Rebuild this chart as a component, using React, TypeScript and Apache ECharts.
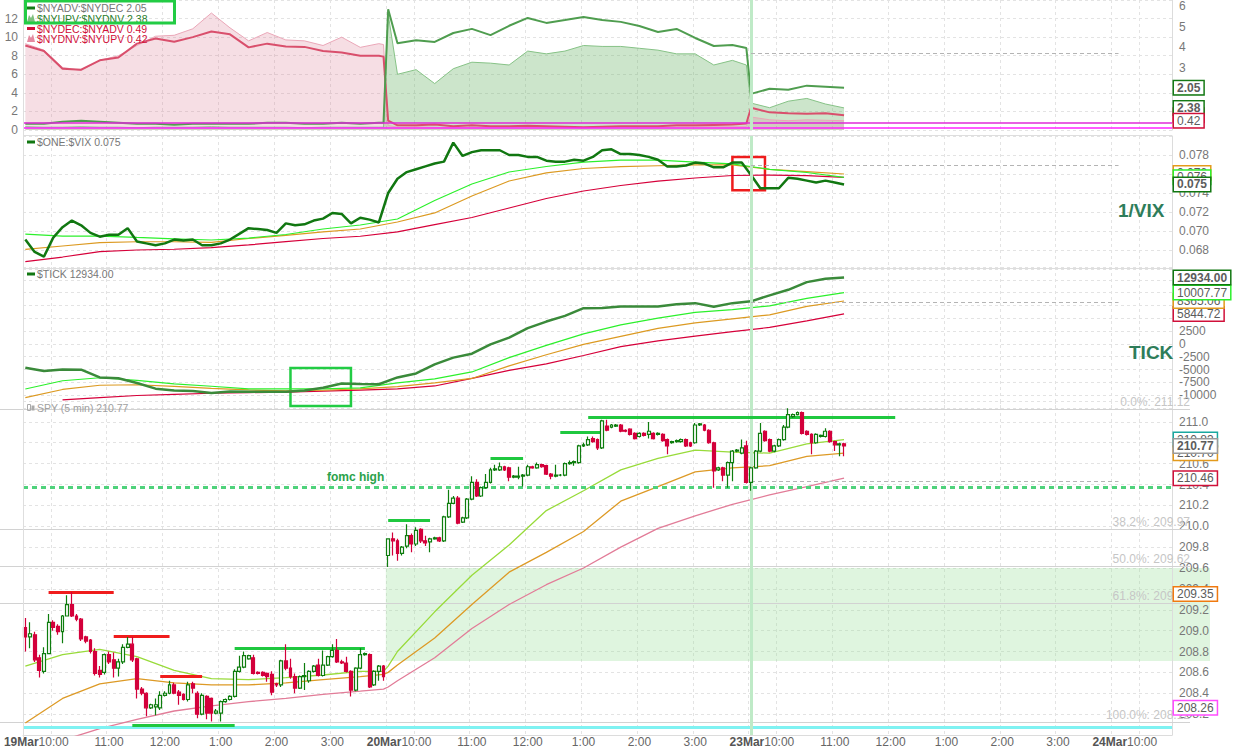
import React, { useEffect, useRef } from "react";
import * as echarts from "echarts";

// ---------- categories (5-minute slots, 78 per session) ----------
const DAYS = ["19Mar", "20Mar", "23Mar", "24Mar"];
const BARS_PER_DAY = 78;
const SLOT_COUNT = 247;
const OPEN_MIN = 570; // 9:30

// ---------- SPY 5-min candles: [open, close, low, high] ----------
const SPY_OHLC: number[][] = [
  // 19 Mar
  [209.03, 208.94, 208.8, 209.12], [208.94, 208.97, 208.83, 209.08], [208.96, 208.72, 208.7, 208.99], [208.74, 208.62, 208.55, 208.77],
  [208.61, 208.78, 208.59, 208.84], [208.78, 209.08, 208.78, 209.16], [209.08, 209.03, 209.0, 209.1], [209.04, 208.99, 208.96, 209.06],
  [208.99, 209.14, 208.88, 209.15], [209.14, 209.25, 209.14, 209.34], [209.25, 209.14, 209.13, 209.37], [209.14, 209.11, 209.09, 209.16],
  [209.11, 208.92, 208.9, 209.12], [208.94, 208.9, 208.88, 208.95], [208.91, 208.8, 208.78, 208.92], [208.8, 208.59, 208.57, 208.83],
  [208.62, 208.58, 208.55, 208.66], [208.6, 208.77, 208.58, 208.78], [208.77, 208.7, 208.68, 208.8], [208.72, 208.64, 208.55, 208.79],
  [208.64, 208.7, 208.56, 208.73], [208.7, 208.84, 208.68, 208.87], [208.84, 208.87, 208.83, 208.94], [208.87, 208.72, 208.7, 208.94],
  [208.73, 208.44, 208.35, 208.74], [208.44, 208.4, 208.38, 208.46], [208.4, 208.26, 208.18, 208.41], [208.26, 208.29, 208.25, 208.3],
  [208.27, 208.29, 208.19, 208.35], [208.26, 208.38, 208.24, 208.42], [208.38, 208.4, 208.37, 208.42], [208.4, 208.48, 208.39, 208.52],
  [208.48, 208.4, 208.39, 208.5], [208.41, 208.38, 208.29, 208.43], [208.39, 208.34, 208.33, 208.4], [208.34, 208.48, 208.32, 208.51],
  [208.49, 208.45, 208.4, 208.51], [208.4, 208.2, 208.16, 208.42], [208.2, 208.38, 208.19, 208.4], [208.37, 208.21, 208.15, 208.38],
  [208.35, 208.21, 208.13, 208.36], [208.21, 208.23, 208.2, 208.25], [208.21, 208.32, 208.13, 208.33], [208.32, 208.34, 208.31, 208.35],
  [208.34, 208.37, 208.33, 208.38], [208.37, 208.61, 208.36, 208.63], [208.61, 208.65, 208.6, 208.76], [208.65, 208.76, 208.64, 208.8],
  [208.73, 208.76, 208.72, 208.77], [208.74, 208.59, 208.58, 208.77], [208.6, 208.59, 208.58, 208.61], [208.6, 208.57, 208.56, 208.61],
  [208.59, 208.56, 208.51, 208.6], [208.58, 208.41, 208.38, 208.61], [208.49, 208.48, 208.46, 208.5], [208.48, 208.71, 208.46, 208.72],
  [208.71, 208.64, 208.62, 208.87], [208.64, 208.56, 208.54, 208.73], [208.56, 208.45, 208.4, 208.59], [208.45, 208.56, 208.44, 208.57],
  [208.56, 208.57, 208.43, 208.69], [208.52, 208.61, 208.5, 208.62], [208.61, 208.66, 208.6, 208.67], [208.67, 208.57, 208.56, 208.73],
  [208.57, 208.67, 208.56, 208.81], [208.67, 208.75, 208.66, 208.76], [208.75, 208.81, 208.74, 208.87], [208.81, 208.7, 208.69, 208.92],
  [208.7, 208.69, 208.68, 208.72], [208.69, 208.61, 208.6, 208.75], [208.61, 208.43, 208.37, 208.62], [208.43, 208.64, 208.42, 208.65],
  [208.64, 208.77, 208.63, 208.83], [208.77, 208.78, 208.76, 208.79], [208.77, 208.46, 208.45, 208.78], [208.48, 208.61, 208.47, 208.62],
  [208.61, 208.66, 208.52, 208.67], [208.66, 208.56, 208.52, 208.67],
  // 20 Mar
  [209.72, 209.88, 209.61, 209.88], [209.88, 209.86, 209.72, 209.94], [209.86, 209.74, 209.67, 209.88], [209.74, 209.8, 209.72, 209.81],
  [209.81, 209.91, 209.79, 210.02], [209.91, 209.83, 209.75, 209.93], [209.83, 209.96, 209.81, 209.99], [209.97, 209.86, 209.84, 209.98],
  [209.86, 209.84, 209.81, 209.91], [209.85, 209.88, 209.75, 209.89], [209.88, 209.89, 209.87, 209.9], [209.89, 209.86, 209.85, 209.9],
  [209.86, 210.09, 209.85, 210.1], [210.09, 210.22, 210.08, 210.35], [210.22, 210.27, 210.21, 210.29], [210.27, 210.03, 210.02, 210.29],
  [210.04, 210.08, 210.03, 210.09], [210.08, 210.26, 210.07, 210.27], [210.26, 210.42, 210.25, 210.48], [210.42, 210.29, 210.28, 210.45],
  [210.29, 210.37, 210.28, 210.38], [210.37, 210.42, 210.36, 210.5], [210.42, 210.54, 210.41, 210.56], [210.54, 210.55, 210.53, 210.59],
  [210.54, 210.57, 210.53, 210.61], [210.57, 210.54, 210.53, 210.58], [210.56, 210.47, 210.43, 210.57], [210.47, 210.48, 210.46, 210.49],
  [210.47, 210.48, 210.45, 210.57], [210.48, 210.49, 210.38, 210.5], [210.49, 210.57, 210.48, 210.59], [210.57, 210.56, 210.55, 210.58],
  [210.56, 210.59, 210.55, 210.61], [210.59, 210.57, 210.56, 210.6], [210.58, 210.5, 210.49, 210.59], [210.5, 210.48, 210.45, 210.51],
  [210.48, 210.49, 210.47, 210.59], [210.49, 210.49, 210.48, 210.5], [210.49, 210.6, 210.48, 210.61], [210.6, 210.61, 210.59, 210.63],
  [210.61, 210.62, 210.58, 210.63], [210.61, 210.77, 210.6, 210.78], [210.77, 210.78, 210.76, 210.8], [210.78, 210.83, 210.77, 210.86],
  [210.84, 210.81, 210.8, 210.86], [210.83, 210.75, 210.73, 210.84], [210.75, 211.01, 210.74, 211.02], [210.96, 210.92, 210.91, 211.02],
  [210.95, 210.97, 210.94, 210.98], [210.96, 210.97, 210.95, 210.98], [210.97, 210.91, 210.9, 210.98], [210.92, 210.91, 210.9, 210.93],
  [210.93, 210.88, 210.87, 210.94], [210.89, 210.84, 210.83, 210.9], [210.86, 210.89, 210.85, 210.9], [210.89, 210.87, 210.86, 210.9],
  [210.88, 210.91, 210.84, 211.0], [210.89, 210.84, 210.83, 210.9], [210.88, 210.89, 210.87, 210.9], [210.88, 210.82, 210.81, 210.89],
  [210.83, 210.77, 210.69, 210.84], [210.8, 210.81, 210.79, 210.82], [210.81, 210.82, 210.8, 210.83], [210.81, 210.83, 210.8, 210.84],
  [210.83, 210.77, 210.76, 210.84], [210.8, 210.77, 210.76, 210.81], [210.8, 210.97, 210.79, 210.99], [210.97, 210.98, 210.96, 210.99],
  [210.97, 210.92, 210.91, 210.98], [210.92, 210.8, 210.79, 210.93], [210.8, 210.53, 210.37, 210.81], [210.54, 210.56, 210.53, 210.57],
  [210.56, 210.49, 210.43, 210.57], [210.49, 210.61, 210.37, 210.62], [210.61, 210.72, 210.43, 210.73], [210.72, 210.73, 210.71, 210.74],
  [210.7, 210.75, 210.69, 210.83], [210.77, 210.42, 210.41, 210.82],
  // 23 Mar
  [210.42, 210.56, 210.34, 210.57], [210.56, 210.72, 210.55, 210.73], [210.72, 210.89, 210.71, 210.99], [210.91, 210.82, 210.81, 210.92],
  [210.83, 210.72, 210.71, 210.84], [210.72, 210.77, 210.71, 210.78], [210.77, 210.83, 210.76, 210.84], [210.83, 210.95, 210.82, 210.97],
  [210.95, 211.07, 210.94, 211.13], [211.05, 211.07, 211.04, 211.08], [211.07, 211.09, 211.06, 211.1], [211.09, 210.89, 210.88, 211.1],
  [210.91, 210.88, 210.87, 210.92], [210.88, 210.8, 210.69, 210.89], [210.8, 210.88, 210.79, 210.89], [210.86, 210.87, 210.85, 210.88],
  [210.86, 210.91, 210.85, 210.94], [210.91, 210.81, 210.8, 210.92], [210.81, 210.78, 210.72, 210.82], [210.78, 210.79, 210.67, 210.8],
  [210.79, 210.77, 210.67, 210.8],
];

// ---------- SPY moving averages ----------
const SPY_MA_IDX = [0, 8, 16, 24, 32, 40, 48, 56, 64, 72, 77, 78, 80, 88, 96, 104, 112, 120, 128, 136, 144, 152, 160, 168, 176];
const SPY_MA_FAST = [208.66, 208.77, 208.82, 208.75, 208.62, 208.54, 208.53, 208.55, 208.575, 208.61, 208.61, 208.66, 208.8, 209.18, 209.53, 209.82, 210.15, 210.34, 210.54, 210.65, 210.73, 210.71, 210.7, 210.79, 210.83];
const SPY_MA_MID = [208.115, 208.35, 208.49, 208.54, 208.5, 208.48, 208.48, 208.5, 208.53, 208.56, 208.58, 208.6, 208.67, 208.93, 209.25, 209.56, 209.75, 209.95, 210.24, 210.38, 210.52, 210.56, 210.58, 210.67, 210.7];
const SPY_MA_SLOW = [207.88, 207.95, 208.06, 208.15, 208.23, 208.28, 208.32, 208.35, 208.39, 208.42, 208.44, 208.46, 208.52, 208.74, 209.02, 209.25, 209.44, 209.6, 209.8, 209.98, 210.1, 210.21, 210.3, 210.38, 210.46];

// ---------- SPY annotations ----------
const FIB_NAMES = ["0.0%", "38.2%", "50.0%", "61.8%", "100.0%"];
const FIB_PRICES = [211.12, 209.97, 209.62, 209.26, 208.12];
const FOMC_HIGH = 210.37;
const BASE_LINE = 208.07;
const ZONE = [78, 209.6, 208.71];
const RED_LEVELS = [[5, 19, 209.37], [19, 31, 208.95], [29, 38, 208.56]];
const GREEN_LEVELS = [[23, 45, 208.09], [45, 73, 208.83], [78, 87, 210.06], [100, 107, 210.65], [115, 124, 210.9], [121, 187, 211.04]];

// ---------- breadth panel ----------
const LINE_IDX = [0, 4, 8, 12, 16, 20, 24, 28, 32, 36, 40, 44, 48, 52, 56, 60, 64, 68, 72, 76, 77, 78, 80, 84, 88, 92, 96, 100, 104, 108, 112, 116, 120, 124, 128, 132, 136, 140, 144, 148, 152, 155, 156, 160, 164, 168, 172, 176];
const NYADV_NYDEC = [0.3, 0.3, 0.4, 0.45, 0.4, 0.35, 0.3, 0.3, 0.25, 0.3, 0.3, 0.3, 0.3, 0.35, 0.35, 0.3, 0.3, 0.35, 0.3, 0.35, 0.35, 5.85, 4.2, 4.35, 4.27, 4.7, 4.9, 4.6, 5.05, 5.43, 5.19, 5.33, 5.48, 5.33, 5.24, 5.04, 4.75, 4.9, 4.46, 4.07, 4.12, 3.97, 1.75, 2.0, 1.95, 2.15, 2.1, 2.05];
const NYUPV_NYDNV = [0.35, 0.3, 0.3, 0.35, 0.3, 0.3, 0.25, 0.3, 0.3, 0.3, 0.35, 0.3, 0.3, 0.3, 0.3, 0.25, 0.3, 0.3, 0.3, 0.3, 0.3, 12.5, 6.0, 6.5, 5.0, 6.6, 7.3, 7.2, 7.0, 8.5, 8.2, 8.5, 9.1, 9.0, 9.0, 8.8, 8.6, 8.2, 8.2, 7.0, 7.5, 7.0, 2.9, 2.4, 3.1, 3.4, 2.8, 2.38];
const NYDEC_NYADV = [9.1, 8.5, 6.6, 6.5, 7.5, 7.8, 9.3, 9.85, 9.5, 10.0, 10.6, 10.3, 8.9, 9.3, 9.0, 8.95, 8.5, 8.35, 8.0, 8.0, 7.9, 1.0, 0.5, 0.5, 0.6, 0.4, 0.5, 0.4, 0.4, 0.45, 0.4, 0.35, 0.3, 0.35, 0.4, 0.4, 0.4, 0.5, 0.5, 0.55, 0.6, 0.7, 2.4, 1.9, 1.8, 1.75, 1.8, 1.6];
const NYDNV_NYUPV = [9.3, 8.6, 6.75, 6.4, 7.5, 8.0, 9.1, 10.1, 10.2, 10.9, 12.6, 11.0, 9.6, 10.5, 9.7, 9.6, 9.1, 10.0, 8.9, 9.3, 9.2, 0.5, 0.3, 0.35, 0.3, 0.25, 0.3, 0.3, 0.35, 0.3, 0.3, 0.25, 0.3, 0.3, 0.35, 0.3, 0.3, 0.35, 0.4, 0.4, 0.4, 0.4, 1.4, 1.1, 1.0, 1.1, 1.05, 1.0];
const BREADTH_MAGENTA = [0.75, 0.2];

// ---------- 1/VIX panel ----------
const VIX_IDX = Array.from({ length: 89 }, (_, k) => k * 2);
const ONE_VIX = [
  0.0691, 0.0678, 0.0673, 0.0693, 0.0704, 0.0711, 0.0706, 0.0698, 0.0694, 0.0696, 0.0696, 0.0703, 0.0689, 0.0687, 0.0685, 0.0687,
  0.0691, 0.069, 0.0691, 0.0685, 0.0685, 0.0687, 0.0691, 0.0697, 0.0703, 0.0702, 0.0701, 0.0698, 0.0708, 0.0706, 0.0707, 0.0711,
  0.0713, 0.0719, 0.0718, 0.0708, 0.0714, 0.0712, 0.0709, 0.074, 0.0755, 0.0762, 0.0765, 0.0768, 0.0771, 0.0773, 0.0793, 0.0779,
  0.0783, 0.0785, 0.0785, 0.0785, 0.078, 0.078, 0.0778, 0.0778, 0.0774, 0.0773, 0.0773, 0.0775, 0.0774, 0.0778, 0.0785, 0.0786,
  0.0781, 0.0781, 0.078, 0.0778, 0.0775, 0.0768, 0.0768, 0.0769, 0.0772, 0.0771, 0.0767, 0.0767, 0.0772, 0.0772, 0.0759, 0.0745,
  0.0745, 0.0745, 0.0756, 0.0755, 0.0753, 0.0751, 0.0753, 0.0751, 0.0749,
];
const MA_IDX = Array.from({ length: 23 }, (_, k) => k * 8);
const VIX_MA_FAST = [0.06968, 0.06947, 0.06947, 0.06932, 0.06918, 0.06905, 0.06926, 0.06963, 0.07021, 0.07063, 0.07126, 0.07321, 0.07495, 0.07621, 0.07679, 0.07726, 0.07747, 0.07747, 0.07726, 0.07707, 0.07649, 0.07616, 0.07565];
const VIX_MA_MID = [0.06807, 0.06842, 0.06877, 0.06887, 0.06887, 0.06881, 0.06921, 0.06953, 0.0699, 0.07021, 0.07095, 0.0719, 0.07368, 0.07526, 0.07611, 0.07658, 0.07678, 0.07687, 0.07697, 0.07697, 0.07649, 0.07624, 0.076];
const VIX_MA_SLOW = [0.06677, 0.06726, 0.06782, 0.068, 0.06808, 0.06826, 0.06853, 0.06889, 0.06921, 0.06945, 0.0699, 0.07068, 0.07142, 0.07242, 0.07342, 0.07421, 0.07479, 0.07526, 0.07558, 0.07584, 0.07589, 0.07583, 0.07565];

// ---------- TICK panel ----------
const TICK_IDX = Array.from({ length: 45 }, (_, k) => k * 4);
const TICK = [-4630, -5270, -4980, -5020, -6540, -6700, -7620, -8730, -9100, -9180, -9570, -9280, -9320, -9320, -9320, -9080, -8540, -7710, -7810, -7870, -6540, -5760, -4000, -2680, -1910, -100, 1230, 3070, 4360, 5470, 6970, 6990, 7290, 7290, 7290, 7750, 7950, 7230, 7950, 8300, 9470, 10550, 12050, 12700, 12934];
const TICK_MA_FAST = [-8789, -7187, -6601, -7109, -7812, -8261, -8789, -8789, -8789, -8593, -7597, -6836, -5468, -2676, -293, 1953, 3711, 5019, 6152, 6699, 7421, 8886, 10008];
const TICK_MA_MID = [-10488, -8886, -8066, -7968, -8300, -8671, -8984, -9179, -9042, -8789, -8320, -7617, -6738, -4297, -2109, -98, 1465, 3027, 4101, 4883, 5664, 7324, 8365];
const TICK_MA_SLOW = [null, -10900, -10488, -10058, -9824, -9628, -9492, -9433, -9218, -9003, -8789, -8203, -6738, -5175, -3906, -2265, -527, 586, 1523, 2383, 3223, 4492, 5845];

// ---------- axis labels hidden under the value tags in the reference ----------
const HIDDEN_RIGHT_LABELS = ["2", "0.076", "10000", "7500", "210.8"];

// ---------- helpers ----------
const FONT = '"Liberation Sans", Arial, sans-serif';
const CATS: string[] = [];
for (let i = 0; i < SLOT_COUNT; i++) {
  const d = Math.floor(i / BARS_PER_DAY);
  const m = OPEN_MIN + 5 * (i % BARS_PER_DAY);
  CATS.push(`${DAYS[d]} ${Math.floor(m / 60)}:${String(m % 60).padStart(2, "0")}`);
}
const isHour = (i: number) => (OPEN_MIN + 5 * (i % BARS_PER_DAY)) % 60 === 0;
const isGridSlot = (i: number) => i % BARS_PER_DAY === 0 || isHour(i);
const pairs = (idx: number[], vals: (number | null)[]) => idx.map((x, k) => [x, vals[k]]);
const hideCovered = (s: string) => (HIDDEN_RIGHT_LABELS.includes(s) ? "" : s);

const tag = (value: number, text: string, color: string, bold = false) => ({
  yAxis: value,
  lineStyle: { color: "rgba(0,0,0,0)", width: 0 },
  label: {
    show: true,
    position: "end",
    distance: 2,
    formatter: text,
    color: "#5c5c5c",
    fontSize: 12,
    fontFamily: FONT,
    fontWeight: bold ? "bold" : "normal",
    backgroundColor: "#fff",
    borderColor: color,
    borderWidth: 1.5,
    padding: [1, 3, 0, 3],
  },
});
const seg = (x1: number, x2: number, y: number, color: string, width = 3, type: any = "solid") => [
  { coord: [x1, y], lineStyle: { color, width, type } },
  { coord: [x2, y] },
];
const VLINE = { xAxis: 156, lineStyle: { color: "#bfeac7", width: 3, type: "solid" } };
const trail = (y: number) => seg(156, 235, y, "#b4b4b4", 1, [4, 3]);

const lineSeries = (name: string, xi: number, yi: number, data: any[], color: string, width: number, extra: any = {}) => ({
  name,
  type: "line",
  xAxisIndex: xi,
  yAxisIndex: yi,
  data,
  symbol: "none",
  showSymbol: false,
  connectNulls: true,
  lineStyle: { color, width },
  itemStyle: { color },
  z: 3,
  ...extra,
});

const markBase = { silent: true, precision: 6, symbol: ["none", "none"], label: { show: false } };

function buildOption(): any {
  const grids = [
    { left: 23, right: 70, top: 0, height: 130 },
    { left: 23, right: 70, top: 136, height: 133 },
    { left: 23, right: 70, top: 267, height: 141 },
    { left: 23, right: 70, top: 401, height: 336 },
  ];
  const xAxes = [0, 1, 2, 3].map((gi) => ({
    type: "category",
    gridIndex: gi,
    data: CATS,
    boundaryGap: true,
    axisLine: { show: gi === 3, lineStyle: { color: "#dcdcdc" } },
    axisTick: { show: false },
    axisLabel:
      gi === 3
        ? {
            show: true,
            margin: 1,
            interval: (i: number) => isHour(i),
            formatter: (_v: string, i: number) => {
              const k = i % BARS_PER_DAY;
              const d = Math.floor(i / BARS_PER_DAY);
              const h = Math.floor((OPEN_MIN + 5 * k) / 60);
              const t = `${h > 12 ? h - 12 : h}:00`;
              return k === 6 ? `{d|${DAYS[d]}}{t|${t}}{p|}` : `{t|${t}}`;
            },
            rich: {
              d: { fontWeight: "bold", color: "#555", fontSize: 12, fontFamily: FONT },
              t: { color: "#666", fontSize: 12, fontFamily: FONT },
              p: { width: 34 },
            },
          }
        : { show: false },
    splitLine: { show: true, interval: (i: number) => isGridSlot(i), lineStyle: { color: "#e3e3e3", type: [3, 3] } },
  }));
  const axLabel = { color: "#777", fontSize: 12, fontFamily: FONT, margin: 7 };
  const split = { show: true, lineStyle: { color: "#e3e3e3", type: [3, 3] } };
  const yAxes = [
    {
      gridIndex: 0, type: "value", position: "left", min: 0, max: 14, interval: 2,
      axisLabel: { ...axLabel, margin: 5, showMaxLabel: false },
      splitLine: split, axisLine: { show: false }, axisTick: { show: false },
    },
    {
      gridIndex: 0, type: "value", position: "right", min: 0, max: 6.3, interval: 1,
      axisLabel: { ...axLabel, showMaxLabel: false, formatter: (v: number) => (v >= 2 && v <= 6 && Number.isInteger(v) ? hideCovered(String(v)) : "") },
      splitLine: { show: false }, axisLine: { show: true, lineStyle: { color: "#dcdcdc" } }, axisTick: { show: false },
    },
    {
      gridIndex: 1, type: "value", position: "right", min: 0.066, max: 0.08, interval: 0.002,
      axisLabel: { ...axLabel, showMinLabel: false, showMaxLabel: false, formatter: (v: number) => hideCovered(v.toFixed(3)) },
      splitLine: split, axisLine: { show: true, lineStyle: { color: "#dcdcdc" } }, axisTick: { show: false },
    },
    {
      gridIndex: 2, type: "value", position: "right", min: -12500, max: 15000, interval: 2500,
      axisLabel: { ...axLabel, showMinLabel: false, showMaxLabel: false, formatter: (v: number) => hideCovered(String(Math.round(v))) },
      splitLine: split, axisLine: { show: true, lineStyle: { color: "#dcdcdc" } }, axisTick: { show: false },
    },
    {
      gridIndex: 3, type: "value", position: "right", min: 208.0, max: 211.2, interval: 0.2,
      axisLabel: { ...axLabel, showMinLabel: false, showMaxLabel: false, formatter: (v: number) => hideCovered(v.toFixed(1)) },
      splitLine: split, axisLine: { show: true, lineStyle: { color: "#dcdcdc" } }, axisTick: { show: false },
    },
  ];

  const series: any[] = [
    // ---- breadth panel ----
    lineSeries("$NYUPV:$NYDNV", 0, 0, pairs(LINE_IDX, NYUPV_NYDNV), "#86c286", 1, {
      areaStyle: { color: "rgba(110,180,105,0.5)" }, z: 2,
    }),
    lineSeries("$NYDNV:$NYUPV", 0, 0, pairs(LINE_IDX, NYDNV_NYUPV), "#eaa7b8", 1, {
      areaStyle: { color: "rgba(220,130,155,0.38)" }, z: 2,
    }),
    lineSeries("$NYDEC:$NYADV", 0, 0, pairs(LINE_IDX, NYDEC_NYADV), "#d94f6c", 2, {
      markLine: {
        ...markBase,
        data: [
          { yAxis: BREADTH_MAGENTA[0], lineStyle: { color: "#e02ad8", width: 1.5, type: "solid" } },
          { yAxis: BREADTH_MAGENTA[1], lineStyle: { color: "#ff22ff", width: 1.5, type: "solid" } },
          VLINE,
          trail(8.29),
          tag(NYDEC_NYADV[NYDEC_NYADV.length - 1], "0.49", "#d0103a"),
          tag(NYUPV_NYDNV[NYUPV_NYDNV.length - 1], "2.38", "#157a15", true),
          tag(NYDNV_NYUPV[NYDNV_NYUPV.length - 1], "0.42", "#d0103a"),
        ],
      },
    }),
    lineSeries("$NYADV:$NYDEC", 0, 1, pairs(LINE_IDX, NYADV_NYDEC), "#4f9d4f", 2, {
      markLine: { ...markBase, data: [tag(NYADV_NYDEC[NYADV_NYDEC.length - 1], "2.05", "#157a15", true)] },
    }),

    // ---- 1/VIX panel ----
    lineSeries("vixSlow", 1, 2, pairs(MA_IDX, VIX_MA_SLOW), "#d6003a", 1.2),
    lineSeries("vixMid", 1, 2, pairs(MA_IDX, VIX_MA_MID), "#dc9a22", 1.2),
    lineSeries("vixFast", 1, 2, pairs(MA_IDX, VIX_MA_FAST), "#2cf02c", 1.2),
    lineSeries("$ONE:$VIX", 1, 2, pairs(VIX_IDX, ONE_VIX), "#117711", 2.5, {
      z: 4,
      markLine: {
        ...markBase,
        data: [
          VLINE,
          trail(0.07695),
          tag(VIX_MA_MID[VIX_MA_MID.length - 1] + 0.0001, "0.076", "#e39a1c"),
          tag(VIX_MA_FAST[VIX_MA_FAST.length - 1], "0.076", "#2cf02c"),
          tag(ONE_VIX[ONE_VIX.length - 1], "0.075", "#117711", true),
        ],
      },
      markArea: {
        silent: true,
        itemStyle: { color: "rgba(0,0,0,0)", borderColor: "#ee1c1c", borderWidth: 2.5 },
        data: [[{ xAxis: 152, yAxis: 0.0778 }, { xAxis: 159, yAxis: 0.0743 }]],
      },
    }),

    // ---- TICK panel ----
    lineSeries("tickSlow", 2, 3, pairs(MA_IDX, TICK_MA_SLOW), "#d6003a", 1.2),
    lineSeries("tickMid", 2, 3, pairs(MA_IDX, TICK_MA_MID), "#dc9a22", 1.2),
    lineSeries("tickFast", 2, 3, pairs(MA_IDX, TICK_MA_FAST), "#2cf02c", 1.2),
    lineSeries("$TICK", 2, 3, pairs(TICK_IDX, TICK), "#3a8a3a", 2.5, {
      z: 4,
      markLine: {
        ...markBase,
        data: [
          VLINE,
          trail(8203),
          tag(5845, "5844.72", "#d0103a"),
          tag(8365, "8365.06", "#e39a1c"),
          tag(10008, "10007.77", "#2cf02c"),
          tag(12934, "12934.00", "#117711", true),
        ],
      },
      markArea: {
        silent: true,
        itemStyle: { color: "rgba(0,0,0,0)", borderColor: "#22cc44", borderWidth: 2.5 },
        data: [[{ xAxis: 57, yAxis: -4700 }, { xAxis: 70, yAxis: -12100 }]],
      },
    }),

    // ---- SPY panel ----
    {
      type: "custom",
      name: "zone",
      xAxisIndex: 3,
      yAxisIndex: 4,
      clip: false,
      silent: true,
      z: 0,
      encode: { x: 0, y: [1, 2] },
      data: [ZONE],
      renderItem: (params: any, api: any) => {
        const cs = params.coordSys;
        const p1 = api.coord([api.value(0), api.value(1)]);
        const p2 = api.coord([api.value(0), api.value(2)]);
        const half = api.size([1, 0])[0] / 2;
        const x = p1[0] - half;
        return {
          type: "rect",
          shape: { x, y: p1[1], width: cs.x + cs.width + 38 - x, height: p2[1] - p1[1] },
          style: { fill: "rgba(160,226,160,0.34)" },
        };
      },
    },
    {
      type: "custom",
      name: "fib",
      xAxisIndex: 3,
      yAxisIndex: 4,
      clip: false,
      silent: true,
      z: 1,
      encode: { x: 0, y: 1 },
      data: FIB_PRICES.map((p) => [0, p]),
      renderItem: (params: any, api: any) => {
        const cs = params.coordSys;
        const y = Math.round(api.coord([0, api.value(1)])[1]) + 0.5;
        const x2 = cs.x + cs.width + 18;
        return {
          type: "group",
          children: [
            { type: "line", shape: { x1: 0, y1: y, x2, y2: y }, style: { stroke: "#d2d2d2", lineWidth: 1 } },
            {
              type: "text",
              style: {
                text: `${FIB_NAMES[params.dataIndex]}: ${api.value(1).toFixed(2)}`,
                x: x2, y: y - 2,
                align: "right", verticalAlign: "bottom", textAlign: "right", textVerticalAlign: "bottom",
                fill: "#c6c6c6", font: `12px ${FONT}`,
              },
            },
          ],
        };
      },
    },
    lineSeries("spySlow", 3, 4, pairs(SPY_MA_IDX, SPY_MA_SLOW), "#e27c98", 1.3),
    lineSeries("spyMid", 3, 4, pairs(SPY_MA_IDX, SPY_MA_MID), "#dd9a26", 1.3),
    lineSeries("spyFast", 3, 4, pairs(SPY_MA_IDX, SPY_MA_FAST), "#98db3a", 1.3),
    {
      type: "candlestick",
      name: "SPY",
      xAxisIndex: 3,
      yAxisIndex: 4,
      data: SPY_OHLC,
      barWidth: 3.4,
      z: 5,
      itemStyle: { color: "#ffffff", color0: "#d3003b", borderColor: "#0e7d0e", borderColor0: "#d3003b", borderWidth: 1.2 },
      markLine: {
        ...markBase,
        data: [
          { yAxis: BASE_LINE, lineStyle: { color: "#7ff2f2", width: 3, type: "solid" } },
          { yAxis: FOMC_HIGH, lineStyle: { color: "#4fd27b", width: 3, type: [5, 4] } },
          VLINE,
          trail(210.43),
          ...RED_LEVELS.map(([a, b, y]) => seg(a, b, y, "#f01c1c")),
          ...GREEN_LEVELS.map(([a, b, y]) => seg(a, b, y, "#1fc83f")),
          tag(208.26, "208.26", "#ff4cff"),
          tag(209.35, "209.35", "#f07a10"),
          tag(210.46, "210.46", "#d0103a"),
          tag(210.83, "210.83", "#1aa8a0"),
          tag(210.7, "210.70", "#e39a1c"),
          tag(210.77, "210.77", "#9a9a9a", true),
        ],
      },
      markPoint: {
        silent: true,
        symbol: "rect",
        symbolSize: 1,
        itemStyle: { color: "rgba(0,0,0,0)" },
        label: { show: true, position: "inside", formatter: "fomc high", color: "#2aa24a", fontWeight: "bold", fontSize: 12, fontFamily: FONT },
        data: [{ coord: [71, 210.47] }],
      },
    },
  ];

  const LEG_FONT = `10.5px ${FONT}`;
  const t = (x: number, y: number, text: string, fill: string, font = LEG_FONT) => ({
    type: "text",
    silent: true,
    z: 100,
    style: { text, x, y, fill, font, verticalAlign: "middle", textVerticalAlign: "middle" },
  });
  const icon = (y: number, color: string) => ({ type: "rect", silent: true, z: 100, shape: { x: 27, y: y - 1.5, width: 8, height: 3 }, style: { fill: color } });
  const mount = (y: number, color: string) => ({
    type: "polygon", silent: true, z: 100,
    shape: { points: [[27, y + 4], [29, y - 3], [31, y], [33, y - 4], [35, y + 4]] },
    style: { fill: color },
  });
  const hline = (y: number) => ({ type: "line", silent: true, z: 50, shape: { x1: 23, y1: y, x2: 1172, y2: y }, style: { stroke: "#dedede", lineWidth: 1 } });

  const graphic = [
    hline(135.5),
    hline(268.5),
    { type: "line", silent: true, z: 50, shape: { x1: 23.5, y1: 0, x2: 23.5, y2: 737 }, style: { stroke: "#dedede", lineWidth: 1 } },
    icon(8, "#157a15"),
    t(37, 8, "$NYADV:$NYDEC 2.05", "#777"),
    mount(18, "#7dbf7d"),
    t(37, 18.5, "$NYUPV:$NYDNV 2.38", "#2a7d2a"),
    icon(28.5, "#d0103a"),
    t(37, 28.5, "$NYDEC:$NYADV 0.49", "#d0103a"),
    mount(38, "#e58aa0"),
    t(37, 38.5, "$NYDNV:$NYUPV 0.42", "#d0103a"),
    { type: "rect", silent: true, z: 101, shape: { x: 25.5, y: 1, width: 149, height: 22 }, style: { fill: "none", stroke: "#22cc44", lineWidth: 3 } },
    icon(142, "#117711"),
    t(37, 142, "$ONE:$VIX 0.075", "#777"),
    icon(274, "#117711"),
    t(37, 274, "$TICK 12934.00", "#777"),
    { type: "rect", silent: true, z: 100, shape: { x: 27.5, y: 404.5, width: 3, height: 6 }, style: { fill: "none", stroke: "#aaa", lineWidth: 1 } },
    { type: "rect", silent: true, z: 100, shape: { x: 31.5, y: 405.5, width: 3, height: 5 }, style: { fill: "#aaa" } },
    t(37, 408, "SPY (5 min) 210.77", "#a0a0a0"),
    t(1118, 210, "1/VIX", "#2e7d5a", `bold 19px ${FONT}`),
    t(1129, 352, "TICK", "#2e7d5a", `bold 19px ${FONT}`),
  ];

  return {
    animation: false,
    backgroundColor: "#ffffff",
    textStyle: { fontFamily: FONT },
    grid: grids,
    xAxis: xAxes,
    yAxis: yAxes,
    series,
    graphic,
  };
}

export default function App() {
  const ref = useRef<HTMLDivElement>(null);
  useEffect(() => {
    if (!ref.current) return;
    const chart = echarts.init(ref.current, undefined, { renderer: "svg" });
    chart.setOption(buildOption());
    return () => chart.dispose();
  }, []);
  return (
    <div
      ref={ref}
      style={{ position: "fixed", left: 0, top: 0, width: 1242, height: 748, background: "#fff" }}
    />
  );
}
